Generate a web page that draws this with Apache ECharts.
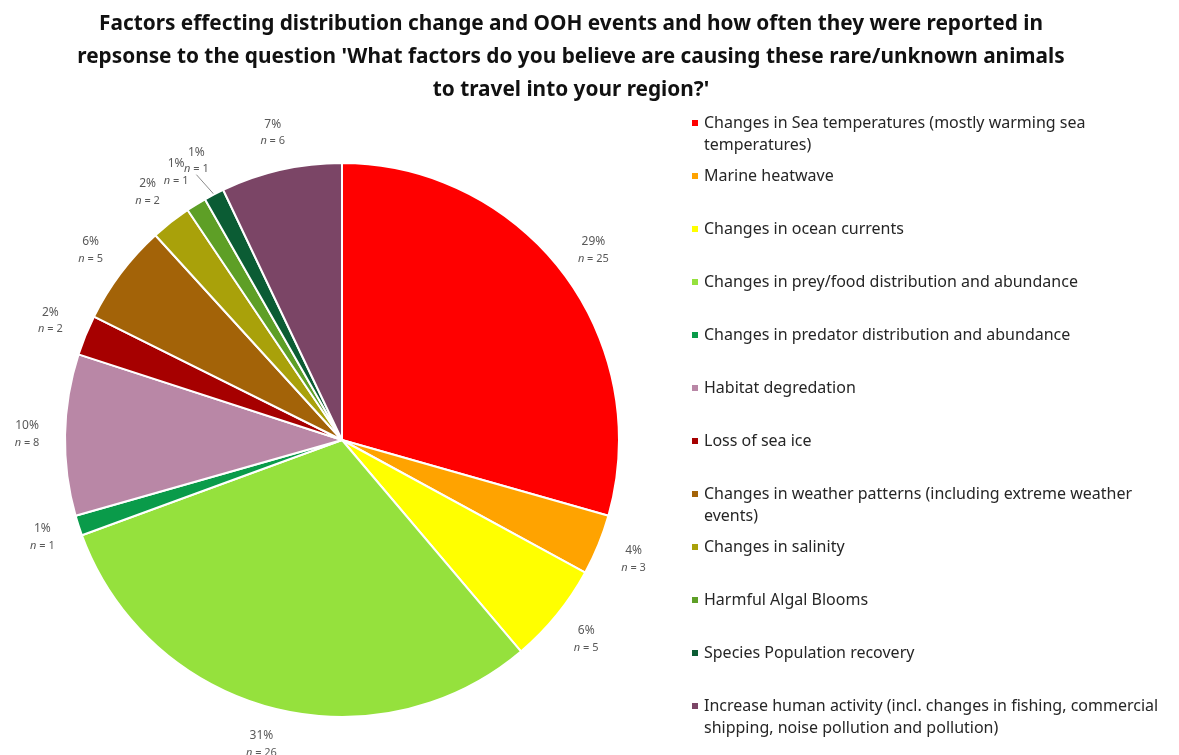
<!DOCTYPE html>
<html>
<head>
<meta charset="utf-8">
<script src="https://cdn.jsdelivr.net/npm/echarts@6/dist/echarts.min.js"></script>
<style>
  html, body { margin: 0; padding: 0; background: #ffffff; }
  #chart { width: 1179px; height: 755px; }
</style>
</head>
<body>
<div id="chart"></div>
<script>
// Factors reported and how many respondents named each one
const factors = [
  'Changes in Sea temperatures (mostly warming sea temperatures)',
  'Marine heatwave',
  'Changes in ocean currents',
  'Changes in prey/food distribution and abundance',
  'Changes in predator distribution and abundance',
  'Habitat degredation',
  'Loss of sea ice',
  'Changes in weather patterns (including extreme weather events)',
  'Changes in salinity',
  'Harmful Algal Blooms',
  'Species Population recovery',
  'Increase human activity (incl. changes in fishing, commercial shipping, noise pollution and pollution)'
];

// Legend text as wrapped lines
const legendText = [
  'Changes in Sea temperatures (mostly warming sea\ntemperatures)',
  'Marine heatwave',
  'Changes in ocean currents',
  'Changes in prey/food distribution and abundance',
  'Changes in predator distribution and abundance',
  'Habitat degredation',
  'Loss of sea ice',
  'Changes in weather patterns (including extreme weather\nevents)',
  'Changes in salinity',
  'Harmful Algal Blooms',
  'Species Population recovery',
  'Increase human activity (incl. changes in fishing, commercial\nshipping, noise pollution and pollution)'
];

const counts = [25, 3, 5, 26, 1, 8, 2, 5, 2, 1, 1, 6];
const percentLabels = ['29%', '4%', '6%', '31%', '1%', '10%', '2%', '6%', '2%', '1%', '1%', '7%'];

const sliceColors = [
  '#FF0000', '#FFA300', '#FFFF00', '#95E13D', '#0A9B4A', '#B987A6',
  '#A60000', '#A36308', '#A9A10A', '#5E9F26', '#0B5C34', '#7B4566'
];

const titleText = "Factors effecting distribution change and OOH events and how often they were reported in\n" +
  "repsonse to the question 'What factors do you believe are causing these rare/unknown animals\n" +
  "to travel into your region?'";

// Pie geometry (pixels)
const CX = 342, CY = 440, RADIUS = 277, LABEL_RADIUS = 315;

const total = counts.reduce((a, b) => a + b, 0);
const startCum = [];
counts.reduce((acc, v, i) => { startCum[i] = acc; return acc + v; }, 0);

const chart = echarts.init(document.getElementById('chart'), null, { renderer: 'canvas' });

// One legend block per factor so the rows keep an even pitch even when text wraps.
// Wrapped entries get an empty leading line so the swatch sits beside the first line.
const ROW_TOP = 123, ROW_STEP = 53, LINE_H = 22;
const legends = factors.map((name, i) => {
  const lines = legendText[i].split('\n').length;
  const shown = lines > 1 ? '\n' + legendText[i] : legendText[i];
  const boxLines = lines > 1 ? lines + 1 : 1;
  return {
    orient: 'vertical',
    left: 690,
    top: ROW_TOP + ROW_STEP * i - (boxLines * LINE_H) / 2,
    padding: 0,
    icon: 'rect',
    itemWidth: 8,
    itemHeight: 8,
    selectedMode: false,
    data: [name],
    formatter: () => shown,
    textStyle: {
      fontFamily: 'Noto Sans',
      fontSize: 16,
      color: '#262626',
      lineHeight: LINE_H
    }
  };
});

const option = {
  backgroundColor: '#ffffff',
  animation: false,
  title: {
    text: titleText,
    left: 566,
    top: 3,
    textAlign: 'center',
    textStyle: {
      fontFamily: 'Noto Sans',
      fontWeight: 'bold',
      fontSize: 20.8,
      lineHeight: 33,
      color: '#111111'
    }
  },
  legend: legends,
  series: [{
    type: 'pie',
    center: [CX, CY],
    radius: RADIUS,
    startAngle: 90,
    clockwise: true,
    silent: true,
    itemStyle: { borderColor: '#ffffff', borderWidth: 2 },
    label: {
      show: true,
      position: 'outside',
      overflow: 'none',
      formatter: p => '{p|' + percentLabels[p.dataIndex] + '}\n{i|n}{s| = ' + counts[p.dataIndex] + '}',
      rich: {
        p: { fontFamily: 'Noto Sans', fontSize: 12, color: '#595959', lineHeight: 17 },
        i: { fontFamily: 'Noto Sans', fontSize: 11, fontStyle: 'italic', color: '#595959', lineHeight: 17 },
        s: { fontFamily: 'Noto Sans', fontSize: 11, color: '#595959', lineHeight: 17 }
      }
    },
    labelLine: { show: false },
    labelLayout: function (p) {
      const i = p.dataIndex;
      const mid = (startCum[i] + counts[i] / 2) / total * Math.PI * 2;
      return {
        x: CX + LABEL_RADIUS * Math.sin(mid),
        y: CY - LABEL_RADIUS * Math.cos(mid),
        align: 'center',
        verticalAlign: 'middle'
      };
    },
    data: factors.map((name, i) => ({
      name: name,
      value: counts[i],
      itemStyle: { color: sliceColors[i] },
      labelLine: i === 10 ? { show: true, length: 20, length2: 0, lineStyle: { color: '#8c8c8c', width: 1 } } : undefined
    }))
  }]
};

chart.setOption(option);
</script>
</body>
</html>
